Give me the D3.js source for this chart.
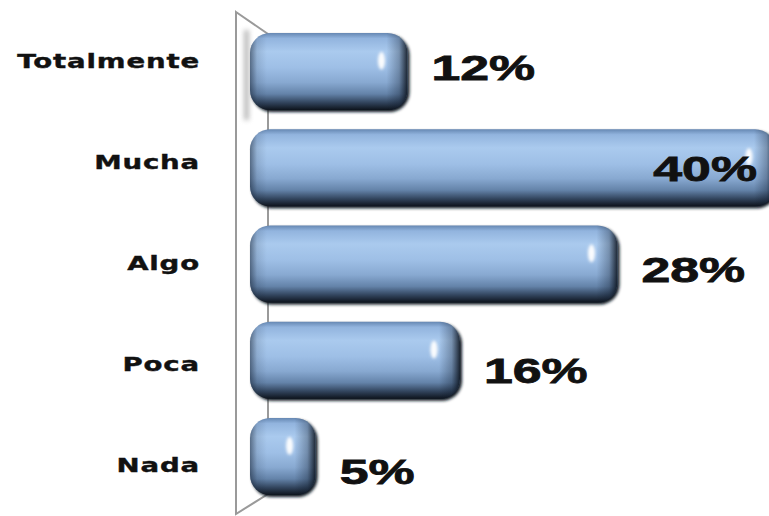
<!DOCTYPE html>
<html>
<head>
<meta charset="utf-8">
<script src="https://cdn.jsdelivr.net/npm/d3@7"></script>
<style>
  html, body { margin: 0; padding: 0; background: #ffffff; }
  svg { display: block; }
</style>
</head>
<body>
<svg id="chart" width="769" height="516"></svg>
<script>
// Survey answers, top to bottom, with their share of responses (%)
const categories = ["Totalmente", "Mucha", "Algo", "Poca", "Nada"];
const values = [12, 40, 28, 16, 5];
const valueLabels = ["12%", "40%", "28%", "16%", "5%"];

const W = 769, H = 516;
const svg = d3.select("#chart");
const defs = svg.append("defs");

// Horizontal value scale and vertical band scale for the bars
const x = d3.scaleLinear().domain([0, 40]).range([250, 775]);
const y = d3.scaleBand().domain(categories).range([23.4, 504.7])
  .paddingInner(0.2).paddingOuter(0.1);
// Text sits on a slightly wider spread (perspective of the 3D view)
const yText = d3.scalePoint().domain(categories).range([61, 465]);

// Cylinder shading: vertical light/dark gradient
const vGrad = defs.append("linearGradient").attr("id", "barV")
  .attr("x1", 0).attr("y1", 0).attr("x2", 0).attr("y2", 1);
[
  [0, "#6688b3"], [0.07, "#92b4de"], [0.24, "#aacaee"], [0.45, "#9ebfe6"],
  [0.64, "#88a9d1"], [0.79, "#6483a9"], [0.9, "#33465f"], [1, "#0d131c"]
].forEach(([o, c]) => vGrad.append("stop").attr("offset", o).attr("stop-color", c));

// Soft blur for the specular spot and the drop edge
defs.append("filter").attr("id", "soft").attr("x", "-100%").attr("y", "-100%")
  .attr("width", "300%").attr("height", "300%")
  .append("feGaussianBlur").attr("stdDeviation", 1.5);
defs.append("filter").attr("id", "shadowBlur").attr("x", "-20%").attr("y", "-20%")
  .attr("width", "140%").attr("height", "140%")
  .append("feGaussianBlur").attr("stdDeviation", 1.5);
defs.append("filter").attr("id", "wallShade").attr("x", "-100%").attr("y", "-20%")
  .attr("width", "300%").attr("height", "140%")
  .append("feGaussianBlur").attr("stdDeviation", 2.5);

// Back wall of the 3D plot area
const wall = svg.append("g").attr("stroke", "#9a9a9a").attr("stroke-width", 2).attr("fill", "none");
wall.append("path").attr("d", "M236,12 L268,34 L268,494 L236,514 Z").attr("fill", "#ffffff");
// faint shade cast by the top bar on the wall
svg.append("rect").attr("x", 244).attr("y", 30).attr("width", 5).attr("height", 90)
  .attr("fill", "#8a8a8a").attr("opacity", 0.6).attr("filter", "url(#wallShade)");

// Bars
const bars = svg.append("g");
categories.forEach((c, i) => {
  const x0 = x(0), x1 = x(values[i]);
  const top = y(c), h = y.bandwidth();
  const w = x1 - x0;
  const r = Math.min(20, w / 2.4);

  // per-bar horizontal edge shading (dark rims at both ends)
  const hg = defs.append("linearGradient").attr("id", "barH" + i)
    .attr("gradientUnits", "userSpaceOnUse")
    .attr("x1", x0).attr("y1", 0).attr("x2", x1).attr("y2", 0);
  const e = 14 / w;
  [
    [0, "rgba(10,20,35,0.5)"], [Math.min(0.45, e * 0.5), "rgba(10,20,35,0.12)"],
    [Math.min(0.48, e * 1.2), "rgba(10,20,35,0)"],
    [Math.max(0.52, 1 - e * 1.5), "rgba(10,20,35,0)"],
    [Math.max(0.55, 1 - e * 0.6), "rgba(10,20,35,0.3)"], [1, "rgba(5,10,18,0.85)"]
  ].forEach(([o, col]) => hg.append("stop").attr("offset", o).attr("stop-color", col));

  const g = bars.append("g");
  // dark drop edge on the right/bottom
  g.append("rect")
    .attr("x", x0 + 2).attr("y", top + 2).attr("width", w).attr("height", h)
    .attr("rx", r).attr("ry", r).attr("fill", "#111820").attr("filter", "url(#shadowBlur)");
  g.append("rect")
    .attr("x", x0).attr("y", top).attr("width", w).attr("height", h)
    .attr("rx", r).attr("ry", r).attr("fill", "url(#barV)");
  g.append("rect")
    .attr("x", x0).attr("y", top).attr("width", w).attr("height", h)
    .attr("rx", r).attr("ry", r).attr("fill", "url(#barH" + i + ")");
  // specular highlight near the rounded end
  g.append("ellipse")
    .attr("cx", x1 - Math.min(26, w * 0.4)).attr("cy", top + h * 0.36)
    .attr("rx", 3.6).attr("ry", 9)
    .attr("fill", "#ffffff").attr("opacity", 0.95).attr("filter", "url(#soft)");
});

// Category labels (wide bold face)
const catG = svg.append("g");
categories.forEach((c) => {
  catG.append("text")
    .attr("transform", `translate(200,${yText(c) + 7}) scale(1.38,1)`)
    .attr("text-anchor", "end")
    .attr("font-family", "'DejaVu Sans', Verdana, sans-serif")
    .attr("font-weight", "bold")
    .attr("font-size", 20)
    .attr("letter-spacing", 0.6)
    .attr("fill", "#111111")
    .attr("stroke", "#111111").attr("stroke-width", 0.4)
    .text(c);
});

// Value labels: outside the bar end, or tucked inside when it would overflow
const valG = svg.append("g");
categories.forEach((c, i) => {
  const t = valG.append("text")
    .attr("font-family", "'Liberation Sans', Arial, sans-serif")
    .attr("font-weight", "bold")
    .attr("font-size", 35)
    .attr("fill", "#111111")
    .attr("stroke", "#111111").attr("stroke-width", 0.8)
    .text(valueLabels[i]);
  const tw = t.node().getComputedTextLength() * 1.48;
  let tx = x(values[i]) + 24;
  if (tx + tw > W - 8) tx = W - 12 - tw;
  t.attr("transform", `translate(${tx},${yText(c) + 19}) scale(1.48,1)`);
});
</script>
</body>
</html>
